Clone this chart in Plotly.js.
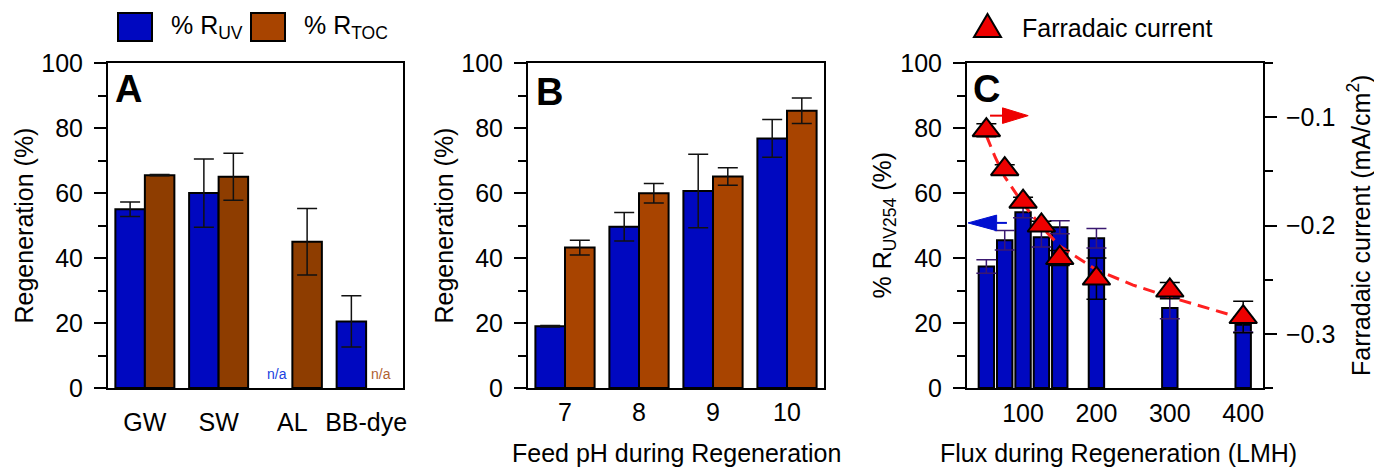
<!DOCTYPE html>
<html>
<head>
<meta charset="utf-8">
<script src="https://cdn.plot.ly/plotly-3.0.1.min.js"></script>
<style>html,body{margin:0;padding:0;background:#fff;}#chart{width:1374px;height:468px;}</style>
</head>
<body>
<div id="chart"></div>
<script>
// ---------- data ----------
const catsA = ['GW', 'SW', 'AL', 'BB-dye'];
const uvA = [55, 60, null, 20.5];
const uvAErr = [2.2, 10.5, null, 7.9];
const tocA = [65.5, 65, 45, null];
const tocAErr = [0.2, 7.2, 10.2, null];

const catsB = ['7', '8', '9', '10'];
const uvB = [19, 49.6, 60.6, 76.8];
const uvBErr = [0.2, 4.4, 11.3, 5.8];
const tocB = [43.2, 59.9, 65.1, 85.3];
const tocBErr = [2.3, 3.0, 2.7, 3.9];

const fluxC = [50, 75, 100, 125, 150, 200, 300, 400];
const uvC = [37.4, 45.5, 54.1, 46.4, 49.5, 46.1, 24.6, 19.5];
const uvCErr = [2.1, 3.0, 1.7, 3.0, 2.0, 3.0, 3.3, 2.3];
const currentC = [-0.112, -0.148, -0.178, -0.200, -0.230, -0.249, -0.260, -0.2845];
const currentCErr = [0.006, 0.004, 0.004, 0.004, 0.007, 0.019, 0.0075, 0.0145];

const fitFlux = [50, 62, 75, 100, 125, 150, 200, 250, 300, 350, 385];
const fitCurrent = [-0.117, -0.137, -0.155, -0.180, -0.201, -0.219, -0.241, -0.255, -0.266, -0.276, -0.283];

const naLabel = 'n/a';

// ---------- style ----------
const W = 1374, H = 468;
const FONT = 'Liberation Sans, Arial, Helvetica, sans-serif';
const BLUE = '#0008C0';
const BROWN_A = '#8E3D00';
const BROWN_B = '#A84400';
const RED = '#EE0000';
const px = x => x / W;
const py = y => 1 - y / H;
const yDomain = [py(388), py(63)];

const barLine = {color: '#000', width: 2};
const errStyle = (arr, color) => ({type: 'data', array: arr, visible: true, color: color, thickness: 1.5, width: 10});

const traces = [
  {type: 'bar', x: catsA, y: uvA, name: '% R<sub>UV</sub>', xaxis: 'x', yaxis: 'y',
   marker: {color: BLUE, line: barLine}, error_y: errStyle(uvAErr, '#111')},
  {type: 'bar', x: catsA, y: tocA, name: '% R<sub>TOC</sub>', xaxis: 'x', yaxis: 'y',
   marker: {color: BROWN_A, line: barLine}, error_y: errStyle(tocAErr, '#111')},
  {type: 'bar', x: catsB, y: uvB, name: '% R<sub>UV</sub>', xaxis: 'x2', yaxis: 'y2',
   marker: {color: BLUE, line: barLine}, error_y: errStyle(uvBErr, '#111')},
  {type: 'bar', x: catsB, y: tocB, name: '% R<sub>TOC</sub>', xaxis: 'x2', yaxis: 'y2',
   marker: {color: BROWN_B, line: barLine}, error_y: errStyle(tocBErr, '#111')},
  {type: 'bar', x: fluxC, y: uvC, name: '% R<sub>UV254</sub>', xaxis: 'x3', yaxis: 'y3', width: 21,
   marker: {color: BLUE, line: barLine}, error_y: errStyle(uvCErr, '#3A1870')},
  {type: 'scatter', mode: 'lines', x: fitFlux, y: fitCurrent, name: 'fit', xaxis: 'x3', yaxis: 'y4',
   line: {color: '#FF2020', width: 3, dash: '12px,7px'}, hoverinfo: 'skip'},
  {type: 'scatter', mode: 'markers', x: fluxC, y: currentC, name: 'Farradaic current', xaxis: 'x3', yaxis: 'y4',
   marker: {symbol: 'triangle-up', size: 24, color: RED, line: {color: '#000', width: 2}},
   error_y: {type: 'data', array: currentCErr, visible: true, color: '#000', thickness: 1.5, width: 10}}
];

const tickFont = {family: FONT, size: 25, color: '#000'};
const yBase = {
  domain: yDomain, range: [0, 100], dtick: 20, tick0: 0,
  ticks: 'outside', ticklen: 12, tickwidth: 2, tickcolor: '#000',
  minor: {dtick: 10, ticks: 'outside', ticklen: 8, tickwidth: 2, tickcolor: '#000'},
  showline: true, linewidth: 2, linecolor: '#000', mirror: true,
  showgrid: false, zeroline: false, tickfont: tickFont, ticklabelstandoff: 6, fixedrange: true
};
const xBase = {
  showline: true, linewidth: 2, linecolor: '#000', mirror: true, ticks: '',
  showgrid: false, zeroline: false, tickfont: tickFont, fixedrange: true
};

const layout = {
  width: W, height: H, margin: {l: 0, r: 0, t: 0, b: 0},
  paper_bgcolor: '#fff', plot_bgcolor: '#fff', showlegend: false,
  barmode: 'group', bargap: 0.2, bargroupgap: 0,
  font: {family: FONT, size: 25, color: '#000'},
  xaxis: Object.assign({}, xBase, {domain: [px(108), px(403)], anchor: 'y', type: 'category', range: [-0.5, 3.5], ticklabelstandoff: 11}),
  yaxis: Object.assign({}, yBase, {anchor: 'x'}),
  xaxis2: Object.assign({}, xBase, {domain: [px(528), px(824)], anchor: 'y2', type: 'category', range: [-0.5, 3.5], ticklabelstandoff: 1}),
  yaxis2: Object.assign({}, yBase, {anchor: 'x2'}),
  xaxis3: Object.assign({}, xBase, {domain: [px(967), px(1263)], anchor: 'y3', range: [23.6, 427], tickvals: [100, 200, 300, 400], ticklabelstandoff: 2}),
  yaxis3: Object.assign({}, yBase, {anchor: 'x3'}),
  yaxis4: {
    overlaying: 'y3', anchor: 'x3', side: 'right', range: [-0.35, -0.05], dtick: 0.1, tick0: 0,
    ticks: 'outside', ticklen: 12, tickwidth: 2, tickcolor: '#000',
    minor: {dtick: 0.05, ticks: 'outside', ticklen: 8, tickwidth: 2, tickcolor: '#000'},
    showline: true, linewidth: 2, linecolor: '#000', showgrid: false, zeroline: false,
    tickfont: tickFont, ticklabelstandoff: 4, fixedrange: true
  },
  annotations: [],
  shapes: []
};

const ann = layout.annotations;
const titleFont = {family: FONT, size: 25, color: '#000'};
// axis titles
ann.push({xref: 'paper', yref: 'paper', x: px(23), y: py(225.5), text: 'Regeneration (%)', textangle: -90, showarrow: false, xanchor: 'center', yanchor: 'middle', font: titleFont});
ann.push({xref: 'paper', yref: 'paper', x: px(443), y: py(225.5), text: 'Regeneration (%)', textangle: -90, showarrow: false, xanchor: 'center', yanchor: 'middle', font: titleFont});
ann.push({xref: 'paper', yref: 'paper', x: px(883), y: py(225.5), text: '% R<sub>UV254</sub> (%)', textangle: -90, showarrow: false, xanchor: 'center', yanchor: 'middle', font: titleFont});
ann.push({xref: 'paper', yref: 'paper', x: px(1359), y: py(226), text: 'Farradaic current (mA/cm<sup>2</sup>)', textangle: -90, showarrow: false, xanchor: 'center', yanchor: 'middle', font: titleFont});
ann.push({xref: 'paper', yref: 'paper', x: px(676), y: py(437), text: 'Feed pH during Regeneration', showarrow: false, xanchor: 'center', yanchor: 'top', font: titleFont});
ann.push({xref: 'paper', yref: 'paper', x: px(1118), y: py(437), text: 'Flux during Regeneration (LMH)', showarrow: false, xanchor: 'center', yanchor: 'top', font: titleFont});
// panel letters
const letterFont = {family: FONT, size: 38, color: '#000'};
ann.push({xref: 'paper', yref: 'paper', x: px(113), y: py(89), text: '<b>A</b>', showarrow: false, xanchor: 'left', yanchor: 'middle', font: letterFont});
ann.push({xref: 'paper', yref: 'paper', x: px(534), y: py(92), text: '<b>B</b>', showarrow: false, xanchor: 'left', yanchor: 'middle', font: letterFont});
ann.push({xref: 'paper', yref: 'paper', x: px(971), y: py(89), text: '<b>C</b>', showarrow: false, xanchor: 'left', yanchor: 'middle', font: letterFont});
// n/a labels
ann.push({xref: 'x', yref: 'y', x: catsA[2], y: 0, xshift: -15, yshift: 4, text: naLabel, showarrow: false, xanchor: 'center', yanchor: 'bottom', font: {family: FONT, size: 14, color: '#2040E0'}});
ann.push({xref: 'x', yref: 'y', x: catsA[3], y: 0, xshift: 15, yshift: 4, text: naLabel, showarrow: false, xanchor: 'center', yanchor: 'bottom', font: {family: FONT, size: 14, color: '#B06030'}});
// legend texts
ann.push({xref: 'paper', yref: 'paper', x: px(169), y: py(27), text: '% R<sub>UV</sub>', showarrow: false, xanchor: 'left', yanchor: 'middle', font: titleFont});
ann.push({xref: 'paper', yref: 'paper', x: px(302), y: py(27), text: '% R<sub>TOC</sub>', showarrow: false, xanchor: 'left', yanchor: 'middle', font: titleFont});
ann.push({xref: 'paper', yref: 'paper', x: px(1020), y: py(28), text: 'Farradaic current', showarrow: false, xanchor: 'left', yanchor: 'middle', font: titleFont});

const shp = layout.shapes;
// legend swatches
shp.push({type: 'rect', xref: 'paper', yref: 'paper', x0: px(118), x1: px(152), y0: py(41), y1: py(13), fillcolor: BLUE, line: {color: '#000', width: 2}});
shp.push({type: 'rect', xref: 'paper', yref: 'paper', x0: px(251), x1: px(285), y0: py(41), y1: py(13), fillcolor: BROWN_B, line: {color: '#000', width: 2}});
shp.push({type: 'path', xref: 'paper', yref: 'paper',
  path: `M${px(974)},${py(37)} L${px(1001)},${py(37)} L${px(987.5)},${py(14)} Z`,
  fillcolor: RED, line: {color: '#000', width: 2}});
// axis-indicator arrows in panel C (x3 / y3 data units)
const redArrow = {tail: 55, base: 72, tip: 107, y: 83.8, half: 2.4};
const blueArrow = {tail: 78, base: 64, tip: 25, y: 50.8, half: 2.4};
[[redArrow, RED], [blueArrow, '#0010D0']].forEach(([a, c]) => {
  shp.push({type: 'line', xref: 'x3', yref: 'y3', x0: a.tail, x1: a.base, y0: a.y, y1: a.y, line: {color: c, width: 2}});
  shp.push({type: 'path', xref: 'x3', yref: 'y3',
    path: `M${a.base},${a.y - a.half} L${a.tip},${a.y} L${a.base},${a.y + a.half} Z`,
    fillcolor: c, line: {color: c, width: 1}});
});

Plotly.newPlot('chart', traces, layout, {staticPlot: true, displayModeBar: false});
</script>
</body>
</html>
